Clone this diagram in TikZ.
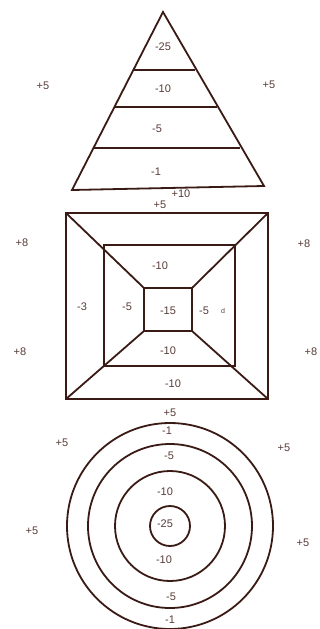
\documentclass[tikz,border=0pt]{standalone}
\usepackage{fontspec}
\setmainfont{Liberation Sans}
\usetikzlibrary{calc}
\definecolor{ink}{HTML}{3A1A14}

\begin{document}
\begin{tikzpicture}[x=1pt, y=-1pt, line width=1.8pt, draw=ink,
    lbl/.style={text=ink!85, font=\fontsize{11}{12}\selectfont, inner sep=0pt}]
            \useasboundingbox (0,0) rectangle (320,629);

            % triangle
            \coordinate (T) at (163, 12);
            \coordinate (L) at (72, 190);
            \coordinate (R) at (264, 186);
            \draw[ink] (L) -- (R) -- (T) -- cycle;
            \draw[ink] (134, 70) -- (195, 70);
            \draw[ink] (114, 107) -- (217, 107);
            \draw[ink] (93, 148) -- (240, 148);
            \node[lbl] (t25) at (163, 47) {-25};
            \node[lbl] (t10) at (163, 89) {-10};
            \node[lbl] (t5) at (157, 129) {-5};
            \node[lbl] (t1) at (156, 172) {-1};
            \node[lbl] (tb) at (181, 194) {+10};
            \node[lbl] (tl) at (43, 86) {+5};
            \node[lbl] (tr) at (269, 85) {+5};

            % square
            \coordinate (O1) at (66, 213);
            \coordinate (O2) at (268, 213);
            \coordinate (O3) at (268, 399);
            \coordinate (O4) at (66, 399);
            \coordinate (I1) at (144, 288);
            \coordinate (I2) at (192, 288);
            \coordinate (I3) at (192, 331);
            \coordinate (I4) at (144, 331);
            \draw[ink] (O1) rectangle (O3);
            \draw[ink] (104, 245) rectangle (235, 366);
            \draw[ink] (I1) rectangle (I3);
            \draw[ink] (O1) -- (I1) (O2) -- (I2) (O3) -- (I3) (O4) -- (I4);
            \node[lbl] (s5) at (160, 205) {+5};
            \node[lbl] (s8a) at (22, 243) {+8};
            \node[lbl] (s8b) at (304, 244) {+8};
            \node[lbl] (s8c) at (20, 352) {+8};
            \node[lbl] (s8d) at (311, 352) {+8};
            \node[lbl] (s3) at (82, 307) {-3};
            \node[lbl] (s5l) at (127, 307) {-5};
            \node[lbl] (s15) at (168, 311) {-15};
            \node[lbl] (s5r) at (204, 311) {-5};
            \node[lbl, font=\fontsize{7}{8}\selectfont] (sd) at (223, 311) {d};
            \node[lbl] (s10a) at (160, 266) {-10};
            \node[lbl] (s10b) at (168, 351) {-10};
            \node[lbl] (s10c) at (173, 384) {-10};

            % target
            \coordinate (C) at (170, 526);
            \foreach \r in {20, 55, 82, 103}
                \draw[ink] (C) circle (\r);
            \node[lbl] (c5) at (170, 413) {+5};
            \node[lbl] (c1a) at (167, 431) {-1};
            \node[lbl] (c5a) at (169, 456) {-5};
            \node[lbl] (c10a) at (165, 492) {-10};
            \node[lbl] (c25) at (165, 524) {-25};
            \node[lbl] (c10b) at (164, 560) {-10};
            \node[lbl] (c5b) at (171, 597) {-5};
            \node[lbl] (c1b) at (170, 620) {-1};
            \node[lbl] (cl1) at (62, 443) {+5};
            \node[lbl] (cr1) at (284, 448) {+5};
            \node[lbl] (cl2) at (32, 531) {+5};
            \node[lbl] (cr2) at (303, 543) {+5};
        \end{tikzpicture}
\end{document}
